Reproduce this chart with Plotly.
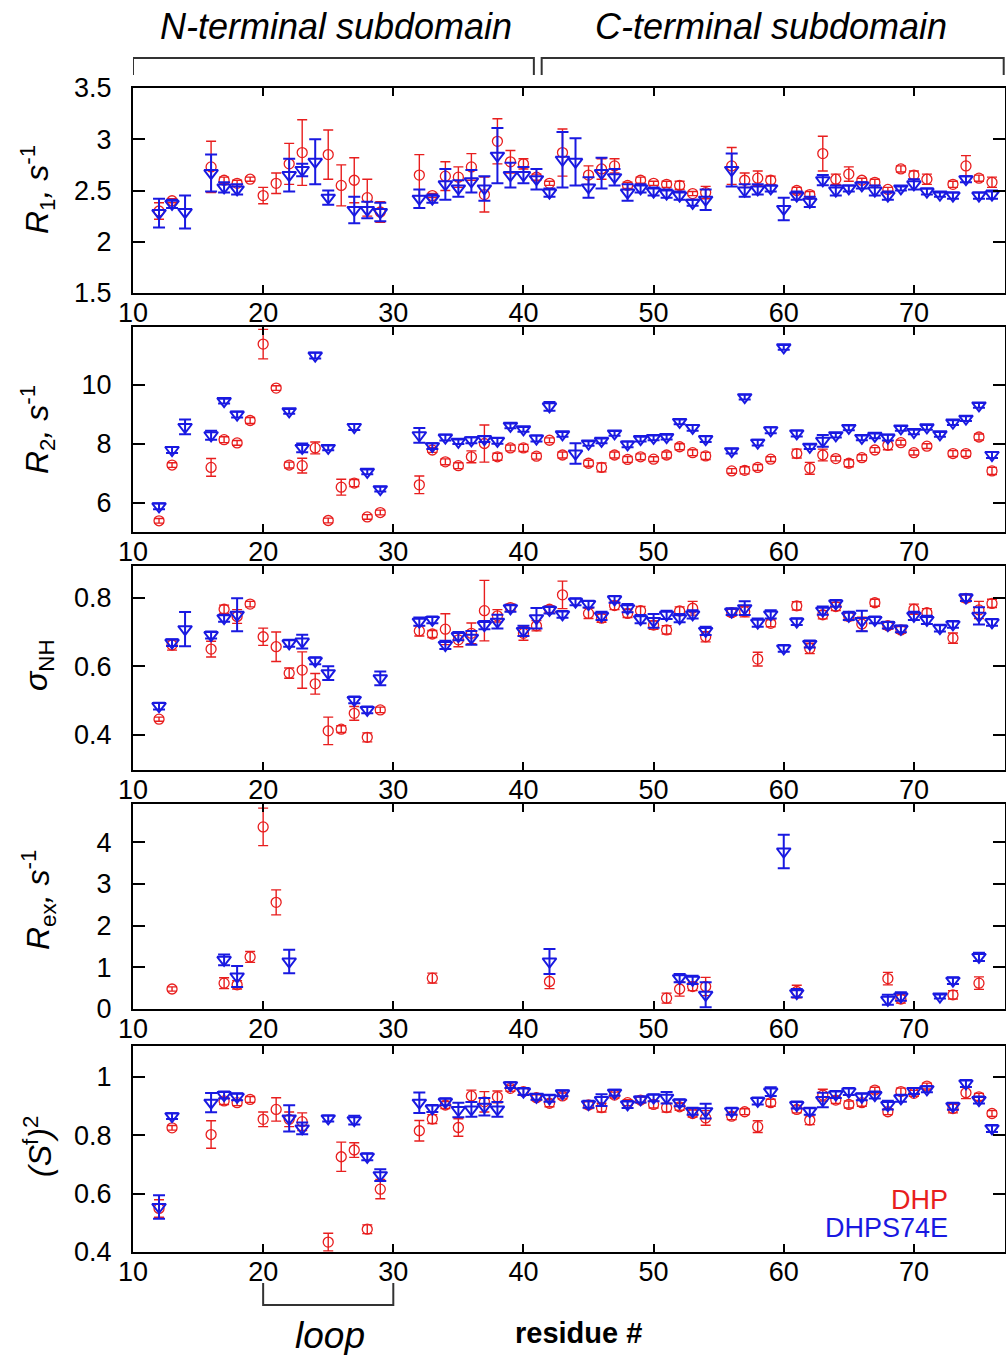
import plotly.graph_objects as go

# ---------------- data ----------------
# Panel 1: R1 (s^-1)
r1_dhp_res = [12,13,16,17,18,19,20,21,22,23, 25,26,27,28,29,32,33,34,35,36,
              37,38,39,40,41,42,43,45,46,47, 48,49,50,51,52,53,54,56,57,58,
              59,61,62,63,64,65,66,67,68,69, 70,71,73,74,75,76]
r1_dhp_val = [2.30,2.40,2.73,2.60,2.57,2.61,2.45,2.57,2.76,2.87, 2.85,2.55,2.60,2.43,2.29,2.65,2.45,2.64,2.63,2.73,
              2.46,2.98,2.78,2.76,2.63,2.57,2.87,2.65,2.71,2.74, 2.55,2.60,2.57,2.56,2.55,2.47,2.48,2.74,2.60,2.62,
              2.60,2.50,2.46,2.86,2.61,2.66,2.60,2.58,2.51,2.71, 2.65,2.61,2.56,2.74,2.62,2.58]
r1_dhp_err = [0.08,0.02,0.25,0.03,0.03,0.02,0.08,0.10,0.20,0.32, 0.24,0.20,0.22,0.18,0.10,0.20,0.02,0.14,0.10,0.13,
              0.17,0.22,0.11,0.05,0.03,0.02,0.23,0.09,0.10,0.07, 0.03,0.03,0.02,0.03,0.04,0.02,0.06,0.18,0.07,0.07,
              0.04,0.03,0.03,0.17,0.05,0.07,0.02,0.03,0.02,0.03, 0.04,0.05,0.03,0.10,0.03,0.05]

r1_s74e_res = [12,13,14,16,17,18,22,23,24,25, 27,28,29,32,33,34,35,36,37,38,
               39,40,41,42,43,44,45,46,47,48, 49,50,51,52,53,54,56,57,58,59,
               60,61,62,63,64,65,66,67,68,69, 70,71,72,73,74,75,76]
r1_s74e_val = [2.28,2.37,2.29,2.67,2.53,2.51,2.65,2.70,2.78,2.43, 2.31,2.31,2.29,2.42,2.42,2.56,2.52,2.59,2.52,2.84,
               2.65,2.65,2.61,2.48,2.80,2.78,2.53,2.67,2.63,2.48, 2.52,2.49,2.47,2.45,2.38,2.41,2.70,2.50,2.51,2.52,
               2.32,2.45,2.39,2.60,2.50,2.52,2.55,2.50,2.45,2.52, 2.56,2.49,2.46,2.45,2.61,2.45,2.46]
r1_s74e_err = [0.14,0.04,0.16,0.18,0.05,0.05,0.16,0.06,0.22,0.07, 0.13,0.08,0.09,0.09,0.04,0.15,0.08,0.11,0.12,0.27,
               0.12,0.08,0.10,0.04,0.27,0.23,0.10,0.15,0.08,0.08, 0.04,0.04,0.04,0.04,0.03,0.10,0.16,0.06,0.05,0.03,
               0.11,0.04,0.05,0.05,0.05,0.03,0.03,0.05,0.04,0.02, 0.05,0.03,0.02,0.03,0.03,0.03,0.04]

# Panel 2: R2 (s^-1)
r2_dhp_res = [12,13,16,17,18,19,20,21,22,23, 24,25,26,27,28,29,32,33,34,35,
              36,37,38,39,40,41,42,43,45,46, 47,48,49,50,51,52,53,54,56,57,
              58,59,61,62,63,64,65,66,67,68, 69,70,71,73,74,75,76]
r2_dhp_val = [5.38,7.27,7.19,8.13,8.02,8.78,11.37,9.88,7.27,7.25, 7.85,5.39,6.52,6.66,5.51,5.66,6.60,7.78,7.38,7.25,
              7.55,8.00,7.55,7.85,7.85,7.57,8.11,7.61,7.33,7.19, 7.61,7.46,7.55,7.47,7.61,7.89,7.69,7.58,7.07,7.09,
              7.19,7.47,7.66,7.16,7.61,7.49,7.33,7.52,7.78,7.94, 8.03,7.69,7.91,7.66,7.66,8.22,7.07]
r2_dhp_err = [0.08,0.08,0.30,0.10,0.08,0.10,0.50,0.08,0.10,0.25, 0.20,0.08,0.27,0.12,0.08,0.08,0.30,0.08,0.10,0.10,
              0.20,0.63,0.12,0.10,0.12,0.10,0.08,0.10,0.10,0.15, 0.10,0.10,0.10,0.08,0.10,0.10,0.10,0.12,0.08,0.12,
              0.10,0.08,0.15,0.20,0.20,0.08,0.12,0.10,0.08,0.15, 0.08,0.08,0.08,0.10,0.10,0.10,0.12]

r2_s74e_res = r1_s74e_res
r2_s74e_val = [5.87,7.78,8.56,8.28,9.44,8.98,9.09,7.85,10.98,7.85, 8.56,7.04,6.45,8.28,7.91,8.20,8.06,8.11,8.15,8.09,
               8.60,8.48,8.17,9.26,8.31,7.66,8.00,8.09,8.34,7.97, 8.15,8.19,8.22,8.73,8.53,8.15,7.74,9.57,8.03,8.45,
               11.26,8.34,7.89,8.09,8.28,8.53,8.19,8.26,8.20,8.51, 8.39,8.55,8.31,8.71,8.84,9.29,7.61]
r2_s74e_err = [0.10,0.10,0.25,0.15,0.08,0.10,0.08,0.15,0.10,0.08, 0.10,0.08,0.08,0.25,0.10,0.10,0.08,0.10,0.10,0.10,
               0.08,0.08,0.10,0.15,0.08,0.35,0.08,0.08,0.08,0.10, 0.08,0.08,0.08,0.08,0.10,0.10,0.08,0.08,0.10,0.10,
               0.08,0.10,0.08,0.20,0.08,0.08,0.08,0.08,0.10,0.08, 0.08,0.08,0.08,0.08,0.08,0.08,0.10]

# Panel 3: sigma_NH
sig_dhp_res = r2_dhp_res
sig_dhp_val = [0.446,0.662,0.650,0.766,0.745,0.781,0.686,0.657,0.580,0.589, 0.549,0.412,0.417,0.463,0.393,0.473,0.703,0.694,0.708,0.677,
               0.696,0.762,0.747,0.771,0.696,0.718,0.766,0.808,0.754,0.740, 0.777,0.754,0.762,0.720,0.706,0.761,0.769,0.686,0.756,0.759,
               0.621,0.725,0.776,0.652,0.750,0.774,0.745,0.723,0.785,0.718, 0.706,0.766,0.756,0.682,0.798,0.764,0.783]
sig_dhp_err = [0.006,0.015,0.023,0.012,0.020,0.008,0.025,0.043,0.015,0.053, 0.030,0.040,0.010,0.020,0.013,0.008,0.015,0.010,0.045,0.020,
               0.030,0.088,0.018,0.010,0.020,0.015,0.010,0.040,0.015,0.012, 0.012,0.012,0.012,0.012,0.012,0.012,0.020,0.015,0.010,0.015,
               0.020,0.010,0.012,0.015,0.012,0.012,0.012,0.020,0.010,0.010, 0.010,0.015,0.012,0.015,0.010,0.025,0.012]

sig_s74e_res = r1_s74e_res
sig_s74e_val = [0.484,0.669,0.708,0.691,0.740,0.750,0.667,0.672,0.616,0.580, 0.502,0.473,0.565,0.730,0.735,0.662,0.688,0.683,0.720,0.730,
                0.769,0.703,0.740,0.764,0.751,0.788,0.781,0.747,0.795,0.769, 0.737,0.732,0.750,0.740,0.751,0.703,0.759,0.769,0.727,0.751,
                0.652,0.730,0.665,0.762,0.783,0.747,0.732,0.735,0.720,0.709, 0.747,0.735,0.711,0.722,0.800,0.747,0.728]
sig_s74e_err = [0.010,0.010,0.050,0.010,0.010,0.048,0.010,0.020,0.010,0.020, 0.010,0.010,0.020,0.012,0.010,0.012,0.012,0.020,0.012,0.020,
                0.010,0.015,0.030,0.010,0.010,0.010,0.010,0.012,0.010,0.012, 0.012,0.020,0.012,0.012,0.012,0.012,0.010,0.020,0.012,0.012,
                0.010,0.010,0.010,0.012,0.010,0.012,0.030,0.010,0.010,0.010, 0.012,0.012,0.010,0.010,0.010,0.025,0.010]

# Panel 4: Rex (s^-1)
rex_dhp_res = [13,17,18,19,20,21,33,42,51,52,53,54,61,68,69,73,75]
rex_dhp_val = [0.48,0.62,0.58,1.25,4.37,2.56,0.74,0.66,0.26,0.48,0.54,0.54,0.42,0.73,0.24,0.34,0.62]
rex_dhp_err = [0.05,0.13,0.10,0.13,0.45,0.30,0.12,0.17,0.12,0.17,0.10,0.22,0.15,0.15,0.10,0.10,0.15]

rex_s74e_res = [17,18,22,42,52,53,54,60,61,68,69,72,73,75]
rex_s74e_val = [1.18,0.78,1.14,1.14,0.74,0.70,0.34,3.78,0.38,0.22,0.30,0.30,0.68,1.25]
rex_s74e_err = [0.13,0.25,0.28,0.30,0.10,0.10,0.30,0.40,0.10,0.12,0.10,0.05,0.08,0.10]

# Panel 5: (S^f)^2
sf_dhp_res = r1_dhp_res
sf_dhp_val = [0.549,0.825,0.802,0.917,0.911,0.922,0.854,0.888,0.854,0.846, 0.434,0.726,0.749,0.478,0.615,0.815,0.855,0.903,0.826,0.934,
              0.914,0.931,0.960,0.949,0.928,0.909,0.934,0.903,0.894,0.937, 0.911,0.920,0.905,0.894,0.897,0.874,0.859,0.865,0.880,0.829,
              0.911,0.888,0.851,0.937,0.920,0.905,0.911,0.954,0.880,0.949, 0.943,0.968,0.891,0.945,0.931,0.874]
sf_dhp_err = [0.030,0.008,0.047,0.012,0.010,0.010,0.025,0.040,0.025,0.030, 0.030,0.050,0.025,0.015,0.033,0.035,0.015,0.012,0.030,0.020,
              0.035,0.020,0.010,0.012,0.010,0.012,0.010,0.012,0.015,0.010, 0.010,0.010,0.012,0.015,0.012,0.012,0.025,0.012,0.010,0.020,
              0.012,0.012,0.015,0.020,0.012,0.012,0.012,0.010,0.010,0.012, 0.010,0.010,0.015,0.020,0.012,0.010]

sf_s74e_res = [12,13,16,17,18,22,23,25,27,28, 29,32,33,34,35,36,37,38,39,40,
               41,42,43,45,46,47,48,49,50,51, 52,53,54,56,58,59,61,62,63,64,
               65,66,67,68,69,70,71,73,74,75, 76]
sf_s74e_val = [0.554,0.865,0.911,0.937,0.931,0.857,0.823,0.857,0.851,0.726, 0.663,0.911,0.891,0.914,0.886,0.888,0.897,0.888,0.971,0.949,
               0.931,0.926,0.943,0.906,0.920,0.945,0.905,0.922,0.928,0.928, 0.911,0.882,0.882,0.882,0.917,0.949,0.903,0.882,0.920,0.939,
               0.949,0.931,0.937,0.903,0.926,0.951,0.957,0.899,0.977,0.920, 0.823]
sf_s74e_err = [0.040,0.010,0.033,0.012,0.012,0.045,0.020,0.010,0.015,0.012, 0.020,0.035,0.012,0.012,0.025,0.025,0.030,0.025,0.010,0.012,
               0.010,0.012,0.010,0.012,0.020,0.010,0.012,0.010,0.012,0.020, 0.012,0.012,0.025,0.012,0.012,0.015,0.012,0.012,0.025,0.012,
               0.012,0.012,0.012,0.015,0.012,0.010,0.010,0.012,0.012,0.012, 0.012]

x_ticks = [10, 20, 30, 40, 50, 60, 70]
panel_titles = ["<i>R</i><sub>1</sub><i>, s</i><sup>-1</sup>",
                "<i>R</i><sub>2</sub><i>, s</i><sup>-1</sup>",
                "<i>σ</i><sub>NH</sub>",
                "<i>R</i><sub>ex</sub><i>, s</i><sup>-1</sup>",
                "<i>(S</i><sup>f</sup><i>)</i><sup>2</sup>"]
y_ticks = [[1.5, 2, 2.5, 3, 3.5], [6, 8, 10], [0.4, 0.6, 0.8], [0, 1, 2, 3, 4], [0.4, 0.6, 0.8, 1]]
y_ticktext = [["1.5", "2", "2.5", "3", "3.5"], ["6", "8", "10"], ["0.4", "0.6", "0.8"],
              ["0", "1", "2", "3", "4"], ["0.4", "0.6", "0.8", "1"]]
y_ranges = [[1.5, 3.5], [5.0, 11.95], [0.298, 0.892], [0, 4.92], [0.4, 1.105]]
series_names = ["DHP", "DHPS74E"]

panels = [
    (r1_dhp_res, r1_dhp_val, r1_dhp_err, r1_s74e_res, r1_s74e_val, r1_s74e_err),
    (r2_dhp_res, r2_dhp_val, r2_dhp_err, r2_s74e_res, r2_s74e_val, r2_s74e_err),
    (sig_dhp_res, sig_dhp_val, sig_dhp_err, sig_s74e_res, sig_s74e_val, sig_s74e_err),
    (rex_dhp_res, rex_dhp_val, rex_dhp_err, rex_s74e_res, rex_s74e_val, rex_s74e_err),
    (sf_dhp_res, sf_dhp_val, sf_dhp_err, sf_s74e_res, sf_s74e_val, sf_s74e_err),
]

# ---------------- layout geometry (pixels) ----------------
W, H = 1006, 1355
ML, MR = 133, 1
panel_px = [(88, 293), (327, 532), (566, 770), (804, 1009), (1046, 1252)]
title_px_y = [190, 430, 665, 900, 1147]
RED = "rgb(232,30,30)"
BLUE = "rgb(25,25,225)"
FONT = "Liberation Sans, Arial, Helvetica, sans-serif"
TICKSIZE = 27


def py(px):
    return 1 - px / H


def px_x(px):
    return (px - ML) / (W - ML - MR)


fig = go.Figure()
layout = dict(
    template="none",
    width=W, height=H,
    margin=dict(l=ML, r=MR, t=0, b=0, pad=0, autoexpand=False),
    paper_bgcolor="white", plot_bgcolor="white",
    showlegend=False,
    font=dict(family=FONT, size=TICKSIZE, color="black"),
)

for i, (rr, rv, re_, br, bv, be) in enumerate(panels):
    k = "" if i == 0 else str(i + 1)
    xa, ya = "x" + k, "y" + k
    fig.add_trace(go.Scatter(
        x=rr, y=rv, mode="markers", name=series_names[0], xaxis=xa, yaxis=ya,
        marker=dict(symbol="circle-open", size=10, color=RED, line=dict(width=1.3, color=RED)),
        error_y=dict(type="data", array=re_, visible=True, color=RED, thickness=1.4, width=5),
    ))
    fig.add_trace(go.Scatter(
        x=br, y=bv, mode="markers", name=series_names[1], xaxis=xa, yaxis=ya,
        marker=dict(symbol="triangle-down-open", size=12, color=BLUE, line=dict(width=2, color=BLUE)),
        error_y=dict(type="data", array=be, visible=True, color=BLUE, thickness=2, width=6),
    ))
    top, bot = panel_px[i]
    layout["xaxis" + k] = dict(
        domain=[0, 1], range=[10, 77], anchor=ya, automargin=False,
        tickmode="array", tickvals=x_ticks, ticktext=[str(t) for t in x_ticks],
        ticks="inside", ticklen=8, tickwidth=1.5, tickcolor="black",
        showline=True, linecolor="black", linewidth=2, mirror="ticks",
        showgrid=False, zeroline=False, tickfont=dict(size=TICKSIZE),
        ticklabelstandoff=-5,
    )
    layout["yaxis" + k] = dict(
        domain=[py(bot), py(top)], range=y_ranges[i], anchor=xa, automargin=False,
        tickmode="array", tickvals=y_ticks[i], ticktext=y_ticktext[i],
        ticks="inside", ticklen=12, tickwidth=1.5, tickcolor="black",
        showline=True, linecolor="black", linewidth=2, mirror="ticks",
        showgrid=False, zeroline=False, tickfont=dict(size=TICKSIZE),
        ticklabelstandoff=14,
    )

annotations = []
for i, t in enumerate(panel_titles):
    annotations.append(dict(
        text=t, xref="paper", yref="paper", x=px_x(38), y=py(title_px_y[i]),
        xanchor="center", yanchor="middle", textangle=-90, showarrow=False,
        font=dict(size=32, family=FONT),
    ))

annotations += [
    dict(text="<i>N-terminal subdomain</i>", xref="paper", yref="paper",
         x=px_x(336), y=py(27), xanchor="center", yanchor="middle", showarrow=False,
         font=dict(size=36, family=FONT)),
    dict(text="<i>C-terminal subdomain</i>", xref="paper", yref="paper",
         x=px_x(771), y=py(27), xanchor="center", yanchor="middle", showarrow=False,
         font=dict(size=36, family=FONT)),
    dict(text="DHP", xref="paper", yref="paper", x=px_x(950), y=py(1200),
         xanchor="right", yanchor="middle", showarrow=False,
         font=dict(size=27, color=RED, family=FONT)),
    dict(text="DHPS74E", xref="paper", yref="paper", x=px_x(950), y=py(1228),
         xanchor="right", yanchor="middle", showarrow=False,
         font=dict(size=27, color=BLUE, family=FONT)),
    dict(text="<i>loop</i>", xref="paper", yref="paper", x=px_x(330), y=py(1335),
         xanchor="center", yanchor="middle", showarrow=False,
         font=dict(size=37, family=FONT)),
    dict(text="<b>residue #</b>", xref="paper", yref="paper", x=px_x(578), y=py(1333),
         xanchor="center", yanchor="middle", showarrow=False,
         font=dict(size=29, family=FONT)),
]
layout["annotations"] = annotations

bracket = dict(color="#333333", width=2)
layout["shapes"] = [
    dict(type="path", xref="x", yref="paper",
         path=f"M 10,{py(75)} L 10,{py(58)} L 40.8,{py(58)} L 40.8,{py(75)}", line=bracket),
    dict(type="path", xref="x", yref="paper",
         path=f"M 41.4,{py(75)} L 41.4,{py(58)} L 76.9,{py(58)} L 76.9,{py(75)}", line=bracket),
    dict(type="path", xref="x5", yref="paper",
         path=f"M 20,{py(1283)} L 20,{py(1305)} L 30,{py(1305)} L 30,{py(1283)}", line=bracket),
]

fig.update_layout(**layout)
fig.write_html("out.html", config={"displayModeBar": False},
               post_script="document.body.style.margin='0';")
